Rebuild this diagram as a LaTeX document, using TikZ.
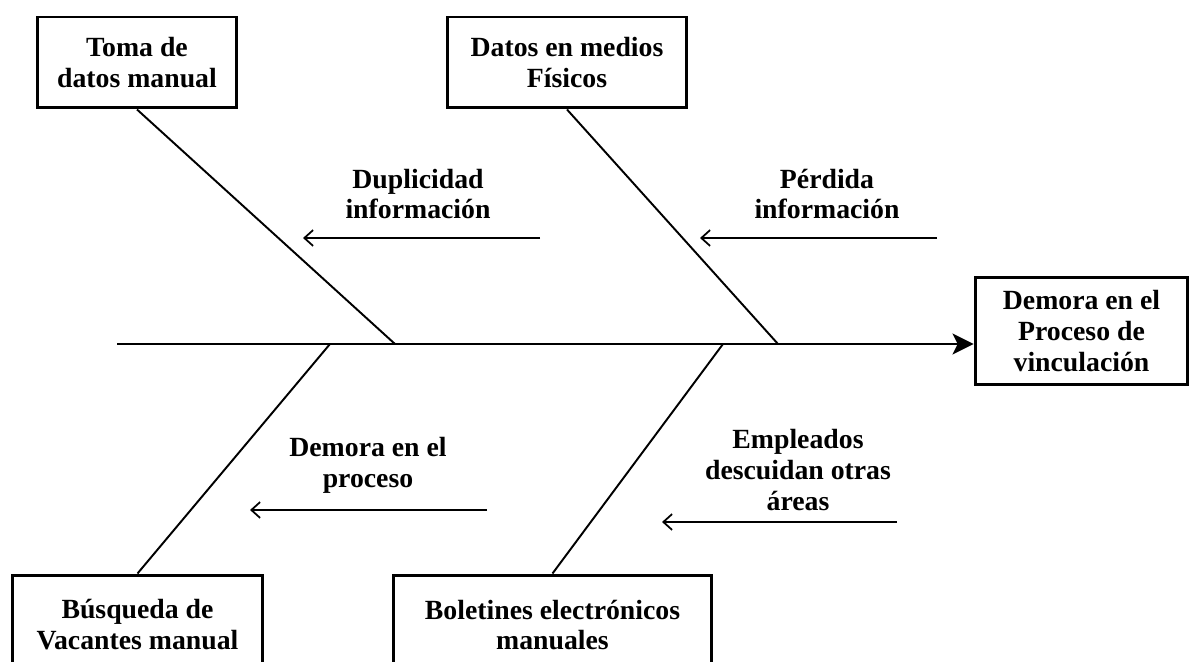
\documentclass[tikz,border=0pt]{standalone}
\usepackage{fontspec}
\setmainfont{Liberation Serif}
\usetikzlibrary{arrows.meta}
\begin{document}
\begin{tikzpicture}
[x=0.02cm,y=-0.02cm,
  boxdecorate/.style={shape=rectangle,draw,line width=1.7pt,align=center,inner sep=0pt,
    font=\fontsize{15.8}{17.6}\selectfont\bfseries},%
  textdecorate/.style={align=center,inner sep=0pt,font=\fontsize{15.8}{17.6}\selectfont\bfseries},%
  linedecorate/.style={-,line width=1.1pt},%
  spinedecorate/.style={-{Stealth[length=12pt,width=12pt,inset=3pt]},line width=1.1pt},%
  arrowdecorate/.style={-{Straight Barb[length=5pt,width=9pt]},line width=1pt}]
\useasboundingbox (0,0) rectangle (1191,662);
%% boxes or causes
\foreach \nodename/\x/\y/\w/\h/\txt in {toma/137/62.5/4/1.82/{Toma de\\datos manual},
    fisicos/567/62.5/4.8/1.82/{Datos en medios\\F\'isicos},
    busqueda/137.5/625/5.02/2/{B\'usqueda de\\Vacantes manual},
    boletines/552.5/625/6.38/2/{Boletines electr\'onicos\\manuales}} {
  \node (\nodename) at (\x,\y) [boxdecorate,minimum width=\w cm,minimum height=\h cm] {\txt};
}
\node (efecto) at (1081.5,331) [boxdecorate,minimum width=4.26cm,minimum height=2.16cm]
  {Demora en el\\Proceso de\\vinculaci\'on};
%% spine
\coordinate (cola) at (117,344);
\draw[spinedecorate] (cola) -- (cola -| efecto.west);
%% bones
\foreach \startnode/\x/\anchor in {toma/395/south, fisicos/778/south,
    busqueda/330/north, boletines/723/north} {
  \coordinate (s-\startnode) at (\x,344);
  \draw[linedecorate] (\startnode.\anchor) -- (s-\startnode);
}
%% sub causes
\foreach \nodename/\x/\y/\ax/\bx/\ay/\txt in {duplicidad/418/194/540/303/238/{Duplicidad\\informaci\'on},
    perdida/827/194/937/700/238/{P\'erdida\\informaci\'on},
    demora/368/465/487/250/510/{Demora en el\\proceso},
    empleados/798/470/897/662/522/{Empleados\\descuidan otras\\\'areas}} {
  \node (\nodename) at (\x,\y) [textdecorate] {\txt};
  \coordinate (\nodename-a) at (\ax,\ay);
  \coordinate (\nodename-b) at (\bx,\ay);
  \draw[arrowdecorate] (\nodename-a) -- (\nodename-b);
}
\end{tikzpicture}
\end{document}
